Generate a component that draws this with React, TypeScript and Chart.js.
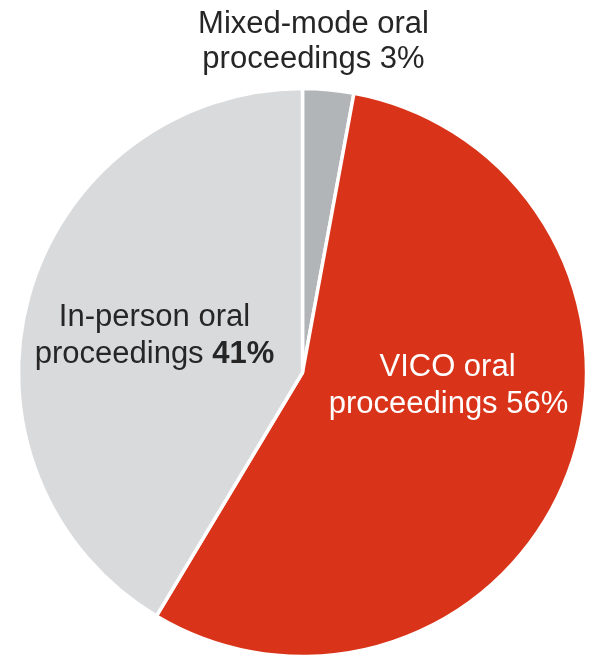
import React, { useEffect, useRef } from "react";
import { Chart, registerables } from "chart.js";

Chart.register(...registerables);

const categories = ["Mixed-mode oral proceedings", "VICO oral proceedings", "In-person oral proceedings"];
const shares = [2.9, 55.7, 41.4];
const sliceColors = ["#b2b5b8", "#d9341a", "#d9dadc"];

const FONT = '"Liberation Sans", Arial, sans-serif';

const labelPlugin = {
  id: "sliceLabels",
  afterDatasetsDraw(chart: any) {
    const meta = chart.getDatasetMeta(0);
    const arc0 = meta.data[0];
    if (!arc0) return;
    const cx = arc0.x;
    const cy = arc0.y;
    const ctx = chart.ctx as CanvasRenderingContext2D;
    ctx.save();
    ctx.textBaseline = "alphabetic";
    const size = 31;
    const reg = `${size}px ${FONT}`;
    const bold = `bold ${size}px ${FONT}`;

    const drawCentered = (parts: { t: string; b?: boolean }[], x: number, y: number, color: string) => {
      let total = 0;
      const widths = parts.map((p) => {
        ctx.font = p.b ? bold : reg;
        const w = ctx.measureText(p.t).width;
        total += w;
        return w;
      });
      let sx = x - total / 2;
      ctx.fillStyle = color;
      ctx.textAlign = "left";
      parts.forEach((p, i) => {
        ctx.font = p.b ? bold : reg;
        ctx.fillText(p.t, sx, y);
        sx += widths[i];
      });
    };

    const pct = (v: number) => `${Math.round(v)}%`;
    const dark = "#262626";
    // Mixed-mode
    drawCentered([{ t: "Mixed-mode oral" }], cx + 11, cy - 340, dark);
    drawCentered([{ t: `proceedings ${pct(shares[0])}` }], cx + 11, cy - 305, dark);
    // In-person
    drawCentered([{ t: "In-person oral" }], cx - 148, cy - 47, dark);
    drawCentered([{ t: "proceedings " }, { t: pct(shares[2]), b: true }], cx - 148, cy - 10, dark);
    // VICO
    drawCentered([{ t: "VICO oral" }], cx + 145, cy + 3, "#ffffff");
    drawCentered([{ t: `proceedings ${pct(shares[1])}` }], cx + 146, cy + 40, "#ffffff");
    ctx.restore();
  },
};

export default function App() {
  const ref = useRef<HTMLCanvasElement | null>(null);
  useEffect(() => {
    if (!ref.current) return;
    const chart = new Chart(ref.current, {
      type: "pie",
      data: {
        labels: categories,
        datasets: [
          {
            data: shares,
            backgroundColor: sliceColors,
            borderColor: "#ffffff",
            borderWidth: 3.5,
            hoverBorderWidth: 3.5,
            hoverOffset: 0,
          },
        ],
      },
      options: {
        responsive: false,
        animation: false,
        events: [],
        layout: { padding: { left: 16.75, right: 1.75, top: 86.75, bottom: 1.75 } },
        plugins: {
          legend: { display: false },
          tooltip: { enabled: false },
        },
      },
      plugins: [labelPlugin],
    });
    return () => chart.destroy();
  }, []);
  return (
    <div style={{ position: "absolute", left: 0, top: 0, width: 590, height: 657, overflow: "hidden", background: "#ffffff" }}>
      <canvas ref={ref} width={590} height={660} style={{ width: 590, height: 660, display: "block" }} />
    </div>
  );
}
